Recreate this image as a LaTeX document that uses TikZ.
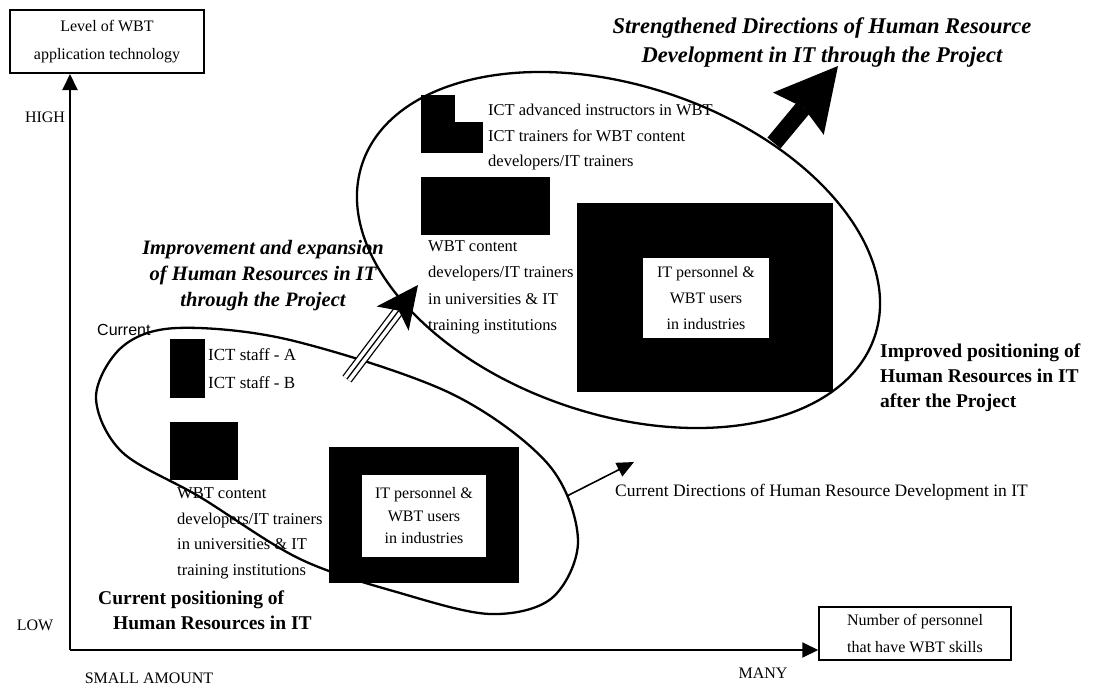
\documentclass[tikz,border=0pt]{standalone}
\usepackage{fontspec}
\setmainfont{Liberation Serif}
\newfontfamily\labelsans{Liberation Sans}
\usetikzlibrary{arrows.meta,calc}

\begin{document}
\begin{tikzpicture}[x=1pt,y=-1pt,
  axisbox/.style={draw, line width=2pt, inner sep=0pt, align=center,
    font=\fontsize{16}{28}\selectfont},
  axisline/.style={line width=2pt, -{Triangle[length=16pt,width=15pt]}},
  tick/.style={inner sep=0pt, font=\fontsize{16}{18}\selectfont},
  blk/.style={fill=black, inner sep=0pt, anchor=north west},
  whitebox/.style={fill=white, inner sep=0pt, align=center},
  lbl/.style={inner sep=0pt, align=left, anchor=west},
  boldlbl/.style={inner sep=0pt, align=left, anchor=west,
    font=\fontsize{19.5}{25}\selectfont\bfseries},
  ring/.style={line width=2.3pt},
]
\useasboundingbox (0,0) rectangle (1096,686);

% ---------- axes ----------
\coordinate (o) at (70,650);
\node[axisbox, minimum width=194pt, minimum height=63pt] (ybox) at (107,41.5)
  {Level of WBT\\application technology};
\node[axisbox, line width=1.5pt, minimum width=192pt, minimum height=53pt,
  font=\fontsize{16}{27}\selectfont] (xbox) at (915,633.5)
  {Number of personnel\\that have WBT skills};
\draw[axisline] (o) -- (o |- ybox.south);
\draw[axisline] (o) -- (xbox.west |- o);

\node[tick] (high) at (45,117) {HIGH};
\node[tick] (low) at (35,625) {LOW};
\node[tick] (small) at (149,678) {SMALL AMOUNT};
\node[tick] (many) at (763,673) {MANY};

% ---------- current positioning (lower group) ----------
\node[blk, minimum width=35pt, minimum height=59pt] (staff) at (170,339) {};
\node[lbl, font=\fontsize{17}{28}\selectfont] (stafftxt) at (208,369)
  {ICT staff - A\\ICT staff - B};
\node[blk, minimum width=68pt, minimum height=58pt] (devlow) at (170,422) {};
\node[lbl, font=\fontsize{16.5}{25.7}\selectfont] (devlowtxt) at (177,533.5)
  {WBT content\\developers/IT trainers\\in universities \& IT\\training institutions};
\node[blk, minimum width=190pt, minimum height=136pt] (indlow) at (329,447) {};
\node[whitebox, minimum width=124pt, minimum height=82pt,
  font=\fontsize{16}{22.5}\selectfont] (indlowtxt) at (424,516)
  {IT personnel \&\\WBT users\\in industries};
\node[lbl, font=\fontsize{16}{18}\selectfont\labelsans] (current) at (97,330) {Current};
\node[boldlbl] (curpos) at (98,610)
  {Current positioning of\\\hspace*{15pt}Human Resources in IT};

% ---------- improved positioning (upper group) ----------
\node[blk, minimum width=34pt, minimum height=30pt] (adv) at (421,95) {};
\node[blk, minimum width=62pt, minimum height=31pt] (trn) at (421,122) {};
\node[lbl, font=\fontsize{16.5}{25.5}\selectfont] (advtxt) at (488,137.5)
  {ICT advanced instructors in WBT\\ICT trainers for WBT content\\developers/IT trainers};
\node[blk, minimum width=129pt, minimum height=58pt] (devup) at (421,177) {};
\node[lbl, font=\fontsize{16.5}{26.3}\selectfont] (devuptxt) at (428,287.5)
  {WBT content\\developers/IT trainers\\in universities \& IT\\training institutions};
\node[blk, minimum width=256pt, minimum height=189pt] (indup) at (577,203) {};
\node[whitebox, minimum width=126pt, minimum height=80pt,
  font=\fontsize{16}{26}\selectfont] (induptxt) at (706,298)
  {IT personnel \&\\WBT users\\in industries};
\node[boldlbl] (imppos) at (880,378)
  {Improved positioning of\\Human Resources in IT\\after the Project};

% ---------- headings ----------
\node[inner sep=0pt, align=center, font=\fontsize{22.5}{29}\selectfont\bfseries\itshape]
  (title) at (822,42.5)
  {Strengthened Directions of Human Resource\\Development in IT through the Project};
\node[inner sep=0pt, align=center, font=\fontsize{20.5}{26}\selectfont\bfseries\itshape]
  (expand) at (263,276)
  {Improvement and expansion\\of Human Resources in IT\\through the Project};
\node[lbl, font=\fontsize{17.5}{18}\selectfont] (curdir) at (615,492)
  {Current Directions of Human Resource Development in IT};

% ---------- groupings ----------
\draw[ring] plot[smooth cycle, tension=0.55] coordinates {
  (96,397) (122,347) (177,328) (290,340) (450,393) (548,464) (578,540)
  (552,598) (490,614) (400,593) (300,559) (200,497) (122,452)};
\draw[ring, rotate around={-18.65:(618.5,250)}]
  (618.5,250) ellipse [x radius=270.4, y radius=164.2];

% ---------- direction arrows ----------
\coordinate (cd0) at (567,496);
\coordinate (cd1) at (634,462);
\draw[line width=1.6pt, -{Triangle[length=17pt,width=15pt]}] (cd0) -- (cd1);

\coordinate (ex0) at (347,379);
\coordinate (ex1) at (418,285);
\draw[line width=1.3pt, double distance=8.7pt, shorten >=33pt] (ex0) -- (ex1);
\draw[line width=1.3pt, -{Stealth[length=42pt,width=40pt,inset=10pt]}] (ex0) -- (ex1);

\coordinate (st0) at (774,143);
\coordinate (st1) at (838,66);
\draw[line width=17pt,
  -{Stealth[length=62pt,width=66pt,inset=8pt,line width=0pt]}] (st0) -- (st1);
\end{tikzpicture}
\end{document}
